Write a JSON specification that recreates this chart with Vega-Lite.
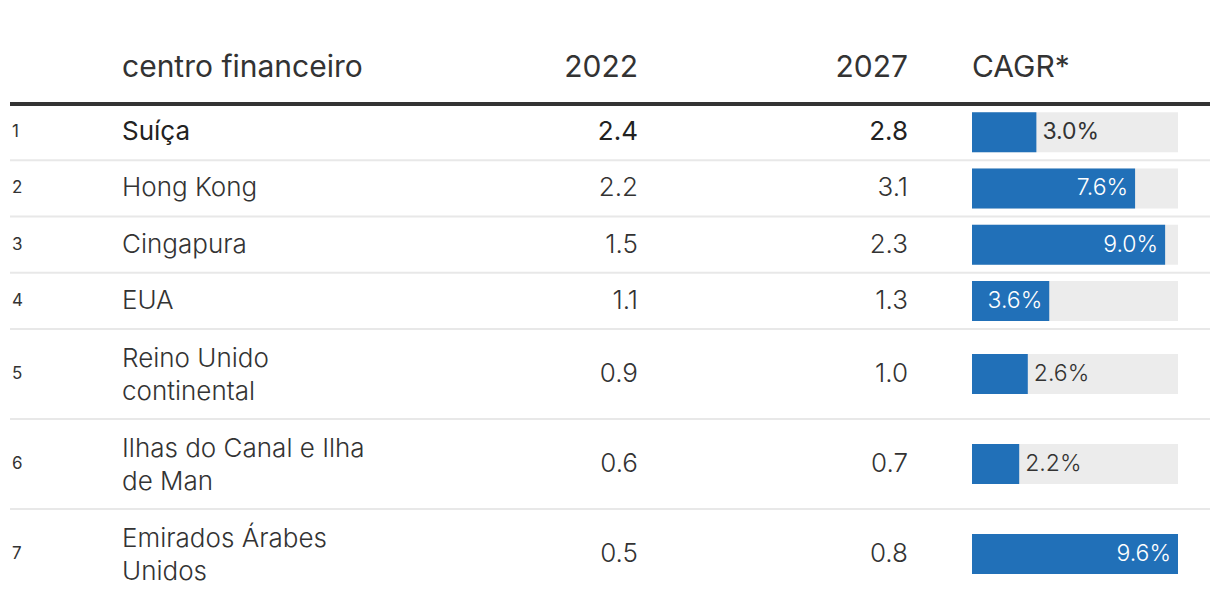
{
"$schema": "https://vega.github.io/schema/vega-lite/v6.json",
"padding": {"left": 8, "top": 0, "right": 12, "bottom": 0},
"background": "white",
"config": {"view": {"stroke": null}, "font": "Inter", "text": {"font": "Inter"}},
"datasets": {
"rows": [
{"rank": 1, "name": "Suíça", "v2022": 2.4, "v2027": 2.8, "cagr": 0.030, "grp": "A"},
{"rank": 2, "name": "Hong Kong", "v2022": 2.2, "v2027": 3.1, "cagr": 0.076, "grp": "A"},
{"rank": 3, "name": "Cingapura", "v2022": 1.5, "v2027": 2.3, "cagr": 0.090, "grp": "A"},
{"rank": 4, "name": "EUA", "v2022": 1.1, "v2027": 1.3, "cagr": 0.036, "grp": "A"},
{"rank": 5, "name": "Reino Unido\ncontinental", "v2022": 0.9, "v2027": 1.0, "cagr": 0.026, "grp": "B"},
{"rank": 6, "name": "Ilhas do Canal e Ilha\nde Man", "v2022": 0.6, "v2027": 0.7, "cagr": 0.022, "grp": "B"},
{"rank": 7, "name": "Emirados Árabes\nUnidos", "v2022": 0.5, "v2027": 0.8, "cagr": 0.096, "grp": "B"}
]
},
"spacing": 0,
"bounds": "flush",
"align": "each",
"columns": 5,
"concat": [
{"width": 112, "height": 104, "data": {"values": [{"h": ""}]},
 "mark": {"type": "rule", "stroke": "#333", "strokeWidth": 4},
 "encoding": {"y": {"datum": 0, "type": "quantitative", "scale": {"domain": [0, 1]}, "axis": null}}},
{"width": 278, "height": 104, "data": {"values": [{"h": "centro financeiro"}]},
 "layer": [
  {"mark": {"type": "rule", "stroke": "#333", "strokeWidth": 4}, "encoding": {"y": {"datum": 0, "type": "quantitative", "scale": {"domain": [0, 1]}, "axis": null}}},
  {"mark": {"type": "text", "align": "left", "baseline": "middle", "dy": 16, "fontSize": 30, "fontWeight": 400, "color": "#333"}, "encoding": {"x": {"datum": 0, "type": "quantitative", "scale": {"domain": [0, 1]}, "axis": null}, "text": {"field": "h"}}}
 ]},
{"width": 238, "height": 104, "data": {"values": [{"h": "2022"}]},
 "layer": [
  {"mark": {"type": "rule", "stroke": "#333", "strokeWidth": 4}, "encoding": {"y": {"datum": 0, "type": "quantitative", "scale": {"domain": [0, 1]}, "axis": null}}},
  {"mark": {"type": "text", "align": "right", "baseline": "middle", "dy": 16, "fontSize": 30, "fontWeight": 400, "color": "#333"}, "encoding": {"x": {"datum": 1, "type": "quantitative", "scale": {"domain": [0, 1]}, "axis": null}, "text": {"field": "h"}}}
 ]},
{"width": 270, "height": 104, "data": {"values": [{"h": "2027"}]},
 "layer": [
  {"mark": {"type": "rule", "stroke": "#333", "strokeWidth": 4}, "encoding": {"y": {"datum": 0, "type": "quantitative", "scale": {"domain": [0, 1]}, "axis": null}}},
  {"mark": {"type": "text", "align": "right", "baseline": "middle", "dy": 16, "fontSize": 30, "fontWeight": 400, "color": "#333"}, "encoding": {"x": {"datum": 1, "type": "quantitative", "scale": {"domain": [0, 1]}, "axis": null}, "text": {"field": "h"}}}
 ]},
{"width": 302, "height": 104, "data": {"values": [{"h": "CAGR*"}]},
 "layer": [
  {"mark": {"type": "rule", "stroke": "#333", "strokeWidth": 4}, "encoding": {"y": {"datum": 0, "type": "quantitative", "scale": {"domain": [0, 1]}, "axis": null}}},
  {"mark": {"type": "text", "align": "left", "baseline": "middle", "dy": 16, "fontSize": 30, "fontWeight": 400, "color": "#333"}, "encoding": {"x": {"datum": 0, "type": "quantitative", "scale": {"domain": [0, 1], "range": [64, 302]}, "axis": null}, "text": {"field": "h"}}}
 ]},
{"width": 112, "height": 225, "data": {"name": "rows"}, "transform": [{"filter": "datum.grp == 'A'"}],
 "layer": [
  {"mark": {"type": "rule", "stroke": "#e8e8e8", "strokeWidth": 2}, "encoding": {"y": {"field": "rank", "type": "ordinal", "bandPosition": 1, "axis": null, "scale": {"paddingInner": 0, "paddingOuter": 0}}}},
  {"mark": {"type": "text", "align": "left", "baseline": "middle", "fontSize": 17, "color": "#333", "dx": 2}, "encoding": {"y": {"field": "rank", "type": "ordinal", "axis": null}, "x": {"datum": 0, "type": "quantitative", "scale": {"domain": [0, 1]}, "axis": null}, "text": {"field": "rank", "type": "ordinal"}}}
 ]},
{"width": 278, "height": 225, "data": {"name": "rows"}, "transform": [{"filter": "datum.grp == 'A'"}],
 "layer": [
  {"mark": {"type": "rule", "stroke": "#e8e8e8", "strokeWidth": 2}, "encoding": {"y": {"field": "rank", "type": "ordinal", "bandPosition": 1, "axis": null, "scale": {"paddingInner": 0, "paddingOuter": 0}}}},
  {"transform": [{"filter": "datum.rank == 1"}], "mark": {"type": "text", "align": "left", "baseline": "middle", "fontSize": 26, "fontWeight": 400, "color": "#222"}, "encoding": {"y": {"field": "rank", "type": "ordinal", "axis": null}, "x": {"datum": 0, "type": "quantitative", "scale": {"domain": [0, 1]}, "axis": null}, "text": {"field": "name"}}},
  {"transform": [{"filter": "datum.rank != 1"}], "mark": {"type": "text", "align": "left", "baseline": "middle", "fontSize": 26, "fontWeight": 300, "color": "#333"}, "encoding": {"y": {"field": "rank", "type": "ordinal", "axis": null}, "x": {"datum": 0, "type": "quantitative", "scale": {"domain": [0, 1]}, "axis": null}, "text": {"field": "name"}}}
 ]},
{"width": 238, "height": 225, "data": {"name": "rows"}, "transform": [{"filter": "datum.grp == 'A'"}],
 "layer": [
  {"mark": {"type": "rule", "stroke": "#e8e8e8", "strokeWidth": 2}, "encoding": {"y": {"field": "rank", "type": "ordinal", "bandPosition": 1, "axis": null, "scale": {"paddingInner": 0, "paddingOuter": 0}}}},
  {"transform": [{"filter": "datum.rank == 1"}], "mark": {"type": "text", "align": "right", "baseline": "middle", "fontSize": 26, "fontWeight": 400, "color": "#222"}, "encoding": {"y": {"field": "rank", "type": "ordinal", "axis": null}, "x": {"datum": 1, "type": "quantitative", "scale": {"domain": [0, 1]}, "axis": null}, "text": {"field": "v2022", "type": "quantitative", "format": ".1f"}}},
  {"transform": [{"filter": "datum.rank != 1"}], "mark": {"type": "text", "align": "right", "baseline": "middle", "fontSize": 26, "fontWeight": 300, "color": "#333"}, "encoding": {"y": {"field": "rank", "type": "ordinal", "axis": null}, "x": {"datum": 1, "type": "quantitative", "scale": {"domain": [0, 1]}, "axis": null}, "text": {"field": "v2022", "type": "quantitative", "format": ".1f"}}}
 ]},
{"width": 270, "height": 225, "data": {"name": "rows"}, "transform": [{"filter": "datum.grp == 'A'"}],
 "layer": [
  {"mark": {"type": "rule", "stroke": "#e8e8e8", "strokeWidth": 2}, "encoding": {"y": {"field": "rank", "type": "ordinal", "bandPosition": 1, "axis": null, "scale": {"paddingInner": 0, "paddingOuter": 0}}}},
  {"transform": [{"filter": "datum.rank == 1"}], "mark": {"type": "text", "align": "right", "baseline": "middle", "fontSize": 26, "fontWeight": 400, "color": "#222"}, "encoding": {"y": {"field": "rank", "type": "ordinal", "axis": null}, "x": {"datum": 1, "type": "quantitative", "scale": {"domain": [0, 1]}, "axis": null}, "text": {"field": "v2027", "type": "quantitative", "format": ".1f"}}},
  {"transform": [{"filter": "datum.rank != 1"}], "mark": {"type": "text", "align": "right", "baseline": "middle", "fontSize": 26, "fontWeight": 300, "color": "#333"}, "encoding": {"y": {"field": "rank", "type": "ordinal", "axis": null}, "x": {"datum": 1, "type": "quantitative", "scale": {"domain": [0, 1]}, "axis": null}, "text": {"field": "v2027", "type": "quantitative", "format": ".1f"}}}
 ]},
{"width": 302, "height": 225, "data": {"name": "rows"}, "transform": [{"filter": "datum.grp == 'A'"}],
 "layer": [
  {"mark": {"type": "rule", "stroke": "#e8e8e8", "strokeWidth": 2}, "encoding": {"y": {"field": "rank", "type": "ordinal", "bandPosition": 1, "axis": null, "scale": {"paddingInner": 0, "paddingOuter": 0}}}},
  {"mark": {"type": "bar", "color": "#ececec", "size": 40}, "encoding": {"y": {"field": "rank", "type": "ordinal", "axis": null}, "x": {"datum": 0, "type": "quantitative", "scale": {"domain": [0, 0.096], "range": [64, 270], "nice": false}, "axis": null}, "x2": {"datum": 0.096}}},
  {"mark": {"type": "bar", "color": "#2170b8", "size": 40}, "encoding": {"y": {"field": "rank", "type": "ordinal", "axis": null}, "x": {"field": "cagr", "type": "quantitative", "axis": null}}},
  {"transform": [{"filter": "datum.cagr >= 0.033"}], "mark": {"type": "text", "align": "right", "baseline": "middle", "fontSize": 23, "fontWeight": 300, "color": "white", "dx": -7}, "encoding": {"y": {"field": "rank", "type": "ordinal", "axis": null}, "x": {"field": "cagr", "type": "quantitative", "axis": null}, "text": {"field": "cagr", "type": "quantitative", "format": ".1%"}}},
  {"transform": [{"filter": "datum.cagr < 0.033"}], "mark": {"type": "text", "align": "left", "baseline": "middle", "fontSize": 23, "fontWeight": 400, "color": "#333", "dx": 6}, "encoding": {"y": {"field": "rank", "type": "ordinal", "axis": null}, "x": {"field": "cagr", "type": "quantitative", "axis": null}, "text": {"field": "cagr", "type": "quantitative", "format": ".1%"}}}
 ]},
{"width": 112, "height": 270, "data": {"name": "rows"}, "transform": [{"filter": "datum.grp == 'B'"}],
 "layer": [
  {"transform": [{"filter": "datum.rank != 7"}], "mark": {"type": "rule", "stroke": "#e8e8e8", "strokeWidth": 2}, "encoding": {"y": {"field": "rank", "type": "ordinal", "bandPosition": 1, "axis": null, "scale": {"paddingInner": 0, "paddingOuter": 0}}}},
  {"mark": {"type": "text", "align": "left", "baseline": "middle", "fontSize": 17, "color": "#333", "dx": 2}, "encoding": {"y": {"field": "rank", "type": "ordinal", "axis": null}, "x": {"datum": 0, "type": "quantitative", "scale": {"domain": [0, 1]}, "axis": null}, "text": {"field": "rank", "type": "ordinal"}}}
 ]},
{"width": 278, "height": 270, "data": {"name": "rows"}, "transform": [{"filter": "datum.grp == 'B'"}],
 "layer": [
  {"transform": [{"filter": "datum.rank != 7"}], "mark": {"type": "rule", "stroke": "#e8e8e8", "strokeWidth": 2}, "encoding": {"y": {"field": "rank", "type": "ordinal", "bandPosition": 1, "axis": null, "scale": {"paddingInner": 0, "paddingOuter": 0}}}},
  {"mark": {"type": "text", "align": "left", "baseline": "middle", "fontSize": 26, "fontWeight": 300, "color": "#333", "lineBreak": "\n", "lineHeight": 33, "dy": -15}, "encoding": {"y": {"field": "rank", "type": "ordinal", "axis": null}, "x": {"datum": 0, "type": "quantitative", "scale": {"domain": [0, 1]}, "axis": null}, "text": {"field": "name"}}}
 ]},
{"width": 238, "height": 270, "data": {"name": "rows"}, "transform": [{"filter": "datum.grp == 'B'"}],
 "layer": [
  {"transform": [{"filter": "datum.rank != 7"}], "mark": {"type": "rule", "stroke": "#e8e8e8", "strokeWidth": 2}, "encoding": {"y": {"field": "rank", "type": "ordinal", "bandPosition": 1, "axis": null, "scale": {"paddingInner": 0, "paddingOuter": 0}}}},
  {"mark": {"type": "text", "align": "right", "baseline": "middle", "fontSize": 26, "fontWeight": 300, "color": "#333"}, "encoding": {"y": {"field": "rank", "type": "ordinal", "axis": null}, "x": {"datum": 1, "type": "quantitative", "scale": {"domain": [0, 1]}, "axis": null}, "text": {"field": "v2022", "type": "quantitative", "format": ".1f"}}}
 ]},
{"width": 270, "height": 270, "data": {"name": "rows"}, "transform": [{"filter": "datum.grp == 'B'"}],
 "layer": [
  {"transform": [{"filter": "datum.rank != 7"}], "mark": {"type": "rule", "stroke": "#e8e8e8", "strokeWidth": 2}, "encoding": {"y": {"field": "rank", "type": "ordinal", "bandPosition": 1, "axis": null, "scale": {"paddingInner": 0, "paddingOuter": 0}}}},
  {"mark": {"type": "text", "align": "right", "baseline": "middle", "fontSize": 26, "fontWeight": 300, "color": "#333"}, "encoding": {"y": {"field": "rank", "type": "ordinal", "axis": null}, "x": {"datum": 1, "type": "quantitative", "scale": {"domain": [0, 1]}, "axis": null}, "text": {"field": "v2027", "type": "quantitative", "format": ".1f"}}}
 ]},
{"width": 302, "height": 270, "data": {"name": "rows"}, "transform": [{"filter": "datum.grp == 'B'"}],
 "layer": [
  {"transform": [{"filter": "datum.rank != 7"}], "mark": {"type": "rule", "stroke": "#e8e8e8", "strokeWidth": 2}, "encoding": {"y": {"field": "rank", "type": "ordinal", "bandPosition": 1, "axis": null, "scale": {"paddingInner": 0, "paddingOuter": 0}}}},
  {"mark": {"type": "bar", "color": "#ececec", "size": 40}, "encoding": {"y": {"field": "rank", "type": "ordinal", "axis": null}, "x": {"datum": 0, "type": "quantitative", "scale": {"domain": [0, 0.096], "range": [64, 270], "nice": false}, "axis": null}, "x2": {"datum": 0.096}}},
  {"mark": {"type": "bar", "color": "#2170b8", "size": 40}, "encoding": {"y": {"field": "rank", "type": "ordinal", "axis": null}, "x": {"field": "cagr", "type": "quantitative", "axis": null}}},
  {"transform": [{"filter": "datum.cagr >= 0.033"}], "mark": {"type": "text", "align": "right", "baseline": "middle", "fontSize": 23, "fontWeight": 300, "color": "white", "dx": -7}, "encoding": {"y": {"field": "rank", "type": "ordinal", "axis": null}, "x": {"field": "cagr", "type": "quantitative", "axis": null}, "text": {"field": "cagr", "type": "quantitative", "format": ".1%"}}},
  {"transform": [{"filter": "datum.cagr < 0.033"}], "mark": {"type": "text", "align": "left", "baseline": "middle", "fontSize": 23, "fontWeight": 300, "color": "#333", "dx": 6}, "encoding": {"y": {"field": "rank", "type": "ordinal", "axis": null}, "x": {"field": "cagr", "type": "quantitative", "axis": null}, "text": {"field": "cagr", "type": "quantitative", "format": ".1%"}}}
 ]}
]
}
